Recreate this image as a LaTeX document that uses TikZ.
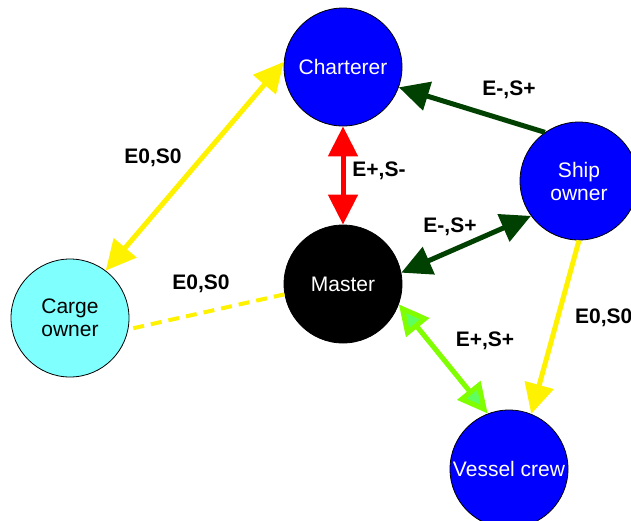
\documentclass[tikz,border=0pt]{standalone}
\usepackage{fontspec}
\setmainfont{Liberation Sans}
\usetikzlibrary{arrows.meta}
\definecolor{nodeblue}{RGB}{0,0,255}
\definecolor{cargecyan}{RGB}{128,255,255}
\definecolor{relgreen}{RGB}{0,64,0}
\definecolor{lawngreen}{RGB}{128,255,0}
\definecolor{palegreen}{RGB}{96,255,96}

\begin{document}
\begin{tikzpicture}[x=1pt,y=-1pt,
  >={Triangle[length=30pt,width=29pt]},
  actor/.style={circle,draw=black,line width=0.8pt,minimum size=118pt,inner sep=0pt,
    align=center,text=white,font=\fontsize{21}{23}\selectfont},
  rel/.style={line width=5pt},
  lbl/.style={font=\bfseries\fontsize{21}{24}\selectfont}]
\useasboundingbox (0,0) rectangle (631,520);
\clip (0,0) rectangle (631,520);
% actors
\node[actor,fill=nodeblue] (charterer) at (343,67) {Charterer};
\node[actor,fill=nodeblue] (shipowner) at (579,181) {Ship\\owner};
\node[actor,fill=black] (master) at (343,284) {Master};
\node[actor,fill=cargecyan,text=black] (cargeowner) at (70,318) {Carge\\owner};
\node[actor,fill=nodeblue] (crew) at (509,469) {Vessel crew};
% relations
\draw[rel,yellow,<->] (cargeowner.53) -- (charterer.175);
\draw[rel,red,<->] (charterer.south) -- (master.north);
\draw[rel,relgreen,->] (shipowner.125) -- (charterer.340);
\draw[rel,relgreen,<->] (master.11) -- (shipowner.216);
\draw[line width=4pt,yellow,dash pattern=on 11pt off 7pt] (master.190) -- (cargeowner.349);
\draw[rel,lawngreen,{Triangle[length=30pt,width=29pt,fill=palegreen]}-{Triangle[length=30pt,width=29pt,fill=palegreen]}] (master.340) -- (crew.111);
\draw[rel,yellow,->] (shipowner.south) -- (crew.68);
% labels
\node[lbl] (l1) at (153,158) {E0,S0};
\node[lbl] (l2) at (379,171) {E+,S-};
\node[lbl] (l3) at (509,90) {E-,S+};
\node[lbl] (l4) at (450,227) {E-,S+};
\node[lbl] (l5) at (201,284) {E0,S0};
\node[lbl] (l6) at (485,341) {E+,S+};
\node[lbl,anchor=west,inner sep=0pt] (l7) at (575,318) {E0,S0};
\end{tikzpicture}
\end{document}
